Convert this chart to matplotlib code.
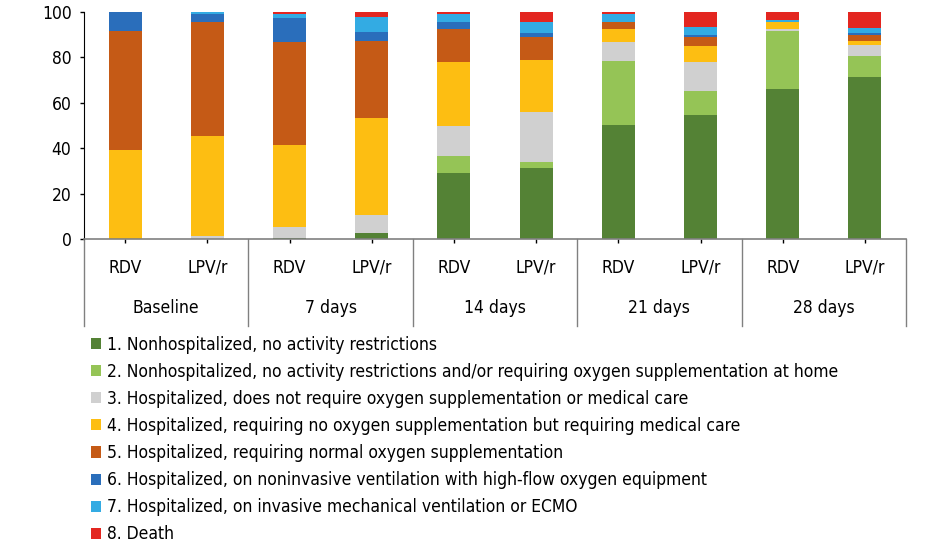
import matplotlib.pyplot as plt
from matplotlib.patches import Patch
import numpy as np

plt.rcParams['font.family'] = ['DejaVu Sans']
plt.rcParams['font.stretch'] = 'condensed'

# categories
groups = ["Baseline", "7 days", "14 days", "21 days", "28 days"]
arms = ["RDV", "LPV/r"] * 5

labels = [
    "1. Nonhospitalized, no activity restrictions",
    "2. Nonhospitalized, no activity restrictions and/or requiring oxygen supplementation at home",
    "3. Hospitalized, does not require oxygen supplementation or medical care",
    "4. Hospitalized, requiring no oxygen supplementation but requiring medical care",
    "5. Hospitalized, requiring normal oxygen supplementation",
    "6. Hospitalized, on noninvasive ventilation with high-flow oxygen equipment",
    "7. Hospitalized, on invasive mechanical ventilation or ECMO",
    "8. Death",
]
colors = ["#548235", "#95C456", "#D0D0D0", "#FDBE12",
          "#C55A16", "#2A6EBB", "#33ABE3", "#E32620"]

# percentages per category (bars in order: Baseline RDV, Baseline LPV/r, 7d RDV, ...)
s1 = [0.0, 0.0, 0.5, 2.6, 29.2, 31.4, 50.2, 54.6, 66.1, 71.4]
s2 = [0.0, 0.0, 0.0, 0.0, 7.4, 2.7, 28.2, 10.6, 25.7, 9.3]
s3 = [0.0, 1.3, 4.8, 8.0, 13.2, 21.8, 8.4, 12.8, 0.7, 4.6]
s4 = [39.1, 43.9, 36.1, 42.7, 28.0, 23.0, 5.7, 7.2, 3.1, 2.1]
s5 = [52.5, 50.5, 45.4, 33.8, 14.7, 10.1, 3.2, 3.9, 0.0, 2.5]
s6 = [8.4, 3.5, 10.7, 4.2, 3.2, 1.9, 0.0, 0.9, 0.0, 1.0]
s7 = [0.0, 0.8, 1.6, 6.4, 3.4, 4.7, 3.5, 3.4, 0.9, 1.9]
s8 = [0.0, 0.0, 0.9, 2.3, 0.9, 4.4, 0.8, 6.6, 3.5, 7.2]
series = [s1, s2, s3, s4, s5, s6, s7, s8]

W, H = 951, 545
fig = plt.figure(figsize=(W / 100, H / 100), dpi=100)
ax = fig.add_axes([84 / W, 1 - 239 / H, (906 - 84) / W, (239 - 12) / H])

x = np.arange(len(arms))
bottom = np.zeros(len(arms))
for vals, c in zip(series, colors):
    ax.bar(x, vals, width=0.4, bottom=bottom, color=c, edgecolor="none")
    bottom += np.array(vals)

ax.set_xlim(-0.5, len(arms) - 0.5)
ax.set_ylim(0, 100)
ax.set_yticks(range(0, 101, 20))
ax.tick_params(axis="y", length=3, width=1, pad=6, labelsize=12.5, color="black")
ax.set_xticks(x)
ax.set_xticklabels([])
ax.tick_params(axis="x", length=3, width=1, color="black")

for sp in ["top", "right"]:
    ax.spines[sp].set_visible(False)
ax.spines["left"].set_color("black")
ax.spines["bottom"].set_color("#808080")
ax.spines["bottom"].set_linewidth(1.2)

# arm labels, group labels and dividers
trans = ax.get_xaxis_transform()
px = 1.0 / (239 - 12)
for i, a in enumerate(arms):
    ax.text(i, -(272.5 - 239) * px, a, transform=trans, ha="center",
            va="baseline", fontsize=12.5)
for g, name in enumerate(groups):
    ax.text(2 * g + 0.5, -(313 - 239) * px, name, transform=trans,
            ha="center", va="baseline", fontsize=12.5)
for d in np.arange(-0.5, len(arms), 2):
    ax.plot([d, d], [0, -(326 - 239) * px], transform=trans, color="#808080",
            lw=1, clip_on=False)

handles = [Patch(facecolor=c, edgecolor="none") for c in colors]
fig.legend(handles, labels, loc="upper left",
           bbox_to_anchor=(91 / W, 1 - 336 / H), frameon=False,
           fontsize=12.5, handlelength=0.6, handleheight=0.6,
           handletextpad=0.35, labelspacing=0.52, borderaxespad=0,
           borderpad=0)

fig.savefig("out.png", dpi=100)
